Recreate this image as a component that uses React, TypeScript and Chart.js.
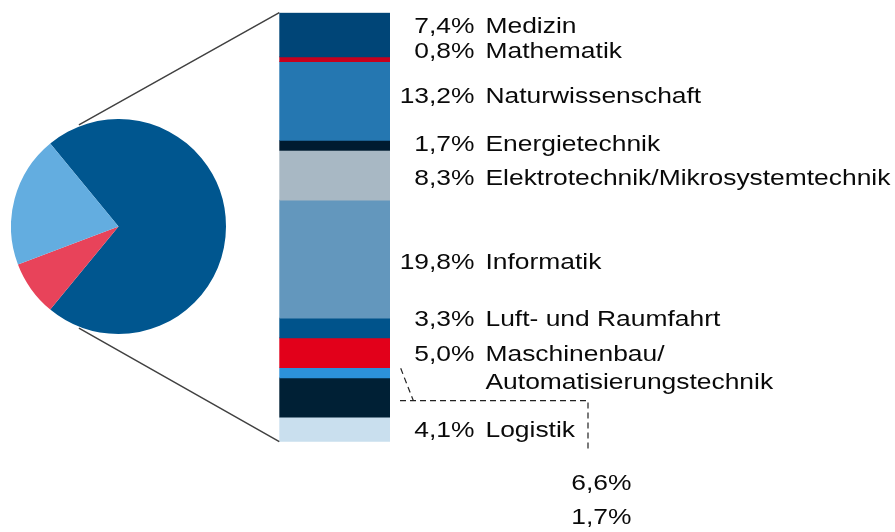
import React, { useEffect, useRef } from "react";
import { Chart, registerables } from "chart.js";

Chart.register(...registerables);

// ---------- data ----------
const pieLabels = ["Auswahl", "Sonstige A", "Sonstige B"];
const pieValues = [71.9, 8.3, 19.8];
const pieColors = ["#00568F", "#E8435A", "#63ADE0"];

const barCategories = [
  "Medizin",
  "Mathematik",
  "Naturwissenschaft",
  "Energietechnik",
  "Elektrotechnik/Mikrosystemtechnik",
  "Informatik",
  "Luft- und Raumfahrt",
  "Maschinenbau/\nAutomatisierungstechnik",
  "",
  "",
  "Logistik",
];
const barValues = [7.4, 0.8, 13.2, 1.7, 8.3, 19.8, 3.3, 5.0, 1.7, 6.6, 4.1];
const barColors = [
  "#004577",
  "#C8001C",
  "#2577B1",
  "#001B30",
  "#A8B8C4",
  "#6397BD",
  "#00538B",
  "#E2001A",
  "#2C91D9",
  "#002035",
  "#C9DFEE",
];

// ---------- layout (styling only) ----------
const FONT = '22px "Liberation Sans", Arial, sans-serif';
const SX = 1.2; // horizontal stretch of the label text
const labelNudge = [-9.3, -8.7, -5.6, -2.7, 1.8, 2.0, -10.0, 0, 0, 0, -0.5];

const fmt = (v: number) => v.toFixed(1).replace(".", ",") + "%";
const total = barValues.reduce((a, b) => a + b, 0);

function drawText(
  ctx: CanvasRenderingContext2D,
  text: string,
  x: number,
  y: number,
  align: CanvasTextAlign
) {
  ctx.save();
  ctx.translate(x, y);
  ctx.scale(SX, 1);
  ctx.textAlign = align;
  ctx.textBaseline = "alphabetic";
  ctx.fillText(text, 0, 0);
  ctx.restore();
}

export default function App() {
  const pieRef = useRef<HTMLCanvasElement>(null);
  const barRef = useRef<HTMLCanvasElement>(null);

  useEffect(() => {
    if (!pieRef.current || !barRef.current) return;
    const pieCanvas = pieRef.current;
    const pieTotal = pieValues.reduce((a, b) => a + b, 0);

    const pie = new Chart(pieCanvas, {
      type: "pie",
      data: {
        labels: pieLabels,
        datasets: [
          {
            data: pieValues,
            backgroundColor: pieColors,
            borderWidth: 0,
            offset: 0,
            hoverOffset: 0,
          } as any,
        ],
      },
      options: {
        responsive: false,
        animation: false,
        rotation: 90 - (pieValues[0] / pieTotal) * 180,
        layout: { padding: 0 },
        plugins: { legend: { display: false }, tooltip: { enabled: false } },
        events: [],
      },
    });

    const connector = {
      id: "pieOfBar",
      afterDraw(chart: any) {
        const ctx: CanvasRenderingContext2D = chart.ctx;
        const area = chart.chartArea;
        const first = chart.getDatasetMeta(0).data[0];
        const barLeft = first.x - first.width / 2;
        const barRight = first.x + first.width / 2;
        const segs = barValues.map((_, i) => {
          const el = chart.getDatasetMeta(i).data[0];
          return {
            top: Math.min(el.y, el.base),
            bottom: Math.max(el.y, el.base),
            center: (el.y + el.base) / 2,
          };
        });

        // series lines from pie to bar
        const arc: any = pie.getDatasetMeta(0).data[0];
        const ox = pieCanvas.offsetLeft;
        const oy = pieCanvas.offsetTop;
        const cx = arc.x + ox;
        const cy = arc.y + oy;
        const r = arc.outerRadius + 1.5;
        const a1 = ((180 + 68.7) * Math.PI) / 180;
        const a2 = ((180 - 68.7) * Math.PI) / 180;
        ctx.save();
        ctx.strokeStyle = "#404040";
        ctx.lineWidth = 1.5;
        ctx.beginPath();
        ctx.moveTo(cx + r * Math.cos(a1), cy + r * Math.sin(a1));
        ctx.lineTo(barLeft, area.top);
        ctx.moveTo(cx + r * Math.cos(a2), cy + r * Math.sin(a2));
        ctx.lineTo(barLeft, area.bottom);
        ctx.stroke();
        ctx.restore();

        // labels
        ctx.save();
        ctx.font = FONT;
        ctx.fillStyle = "#0a0a0a";
        const pctX = barRight + 84.5;
        const nameX = barRight + 95.5;
        barValues.forEach((v, i) => {
          const name = barCategories[i];
          if (!name) return;
          const base = segs[i].center + 7.85 + labelNudge[i];
          drawText(ctx, fmt(v), pctX, base, "right");
          name.split("\n").forEach((line, k) => {
            drawText(ctx, line, nameX, base + k * 28.3, "left");
          });
        });

        // unnamed segments: leader lines and labels below
        const unnamed = barValues
          .map((v, i) => ({ v, i }))
          .filter((d) => !barCategories[d.i]);
        const small = segs[8];
        const big = segs[9];
        const leadX = barRight + 198;
        const leadY = big.center + 3;
        const leadEndY = area.bottom + 10;
        ctx.strokeStyle = "#222222";
        ctx.lineWidth = 1.2;
        ctx.setLineDash([6, 4]);
        ctx.beginPath();
        ctx.moveTo(barRight + 10, leadY);
        ctx.lineTo(leadX, leadY);
        ctx.lineTo(leadX, leadEndY);
        ctx.stroke();
        ctx.beginPath();
        ctx.moveTo(barRight + 10.7, small.center - 4.5);
        ctx.lineTo(barRight + 23.3, leadY);
        ctx.stroke();
        ctx.setLineDash([]);
        const order = [...unnamed].reverse();
        order.forEach((d, k) => {
          drawText(ctx, fmt(d.v), leadX + 43.5, area.bottom + 48.3 + k * 34.3, "right");
        });
        ctx.restore();
      },
    };

    const bar = new Chart(barRef.current, {
      type: "bar",
      data: {
        labels: ["Fächer"],
        datasets: barValues.map((v, i) => ({
          label: barCategories[i] || fmt(v),
          data: [v],
          backgroundColor: barColors[i],
          borderWidth: 0,
          barPercentage: 1,
          categoryPercentage: 1,
        })),
      },
      options: {
        responsive: false,
        animation: false,
        events: [],
        layout: { padding: { left: 279.3, right: 505, top: 12.7, bottom: 90.3 } },
        scales: {
          x: { display: false, stacked: true },
          y: { display: false, stacked: true, reverse: true, min: 0, max: total },
        },
        plugins: { legend: { display: false }, tooltip: { enabled: false } },
      },
      plugins: [connector],
    });

    return () => {
      bar.destroy();
      pie.destroy();
    };
  }, []);

  return (
    <div
      style={{
        position: "fixed",
        left: 0,
        top: 0,
        width: 895,
        height: 532,
        background: "#ffffff",
      }}
    >
      <canvas
        ref={pieRef}
        width={215}
        height={215}
        style={{ position: "absolute", left: 11, top: 119, width: 215, height: 215 }}
      />
      <canvas
        ref={barRef}
        width={895}
        height={532}
        style={{ position: "absolute", left: 0, top: 0, width: 895, height: 532, zIndex: 1 }}
      />
    </div>
  );
}
